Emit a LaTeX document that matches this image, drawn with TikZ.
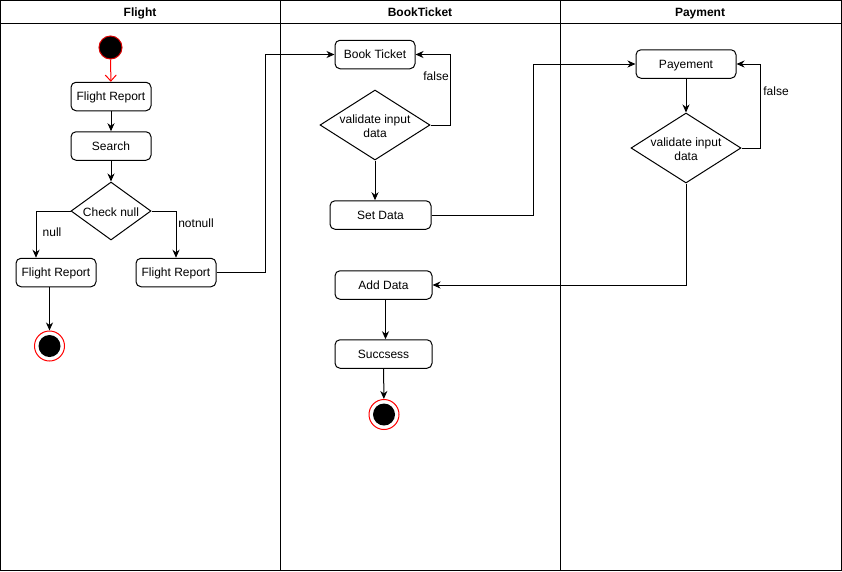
\documentclass[tikz,border=0pt]{standalone}
\usepackage{fontspec}
\setmainfont{Liberation Sans}
\usetikzlibrary{arrows.meta,shapes.geometric}
\begin{document}
\begin{tikzpicture}[x=1pt,y=-1pt,
  font=\fontsize{12}{14}\selectfont,
  line width=1pt,
  txt/.style={text height=11pt, text depth=2.4pt},
  act/.style={draw, rounded corners=5pt, minimum width=#1, minimum height=28.5pt, inner sep=0pt, fill=white, txt},
  act/.default=80pt,
  dia/.style={draw, diamond, inner sep=0pt, minimum width=#1, fill=white},
  dia/.default=110pt,
  dtext/.style={align=center, yshift=-1.5pt},
  flow/.style={-{Stealth[length=8pt,width=7pt,inset=2.5pt]}},
  initstate/.style={circle, draw=red!85!black, fill=black, minimum size=23pt, inner sep=0pt},
  finalstate/.style={circle, draw=red, fill=white, minimum size=30pt, inner sep=0pt,
    path picture={\fill[black] (path picture bounding box.center) circle (11pt);}},
  lbl/.style={inner sep=1pt, txt},
  lanehead/.style={font=\bfseries\fontsize{12}{14}\selectfont, txt}
]
\useasboundingbox (0,0) rectangle (842,571);

% swimlane frame
\draw (0.5,0.5) rectangle (841.5,570.5);
\draw (0.5,23) -- (841.5,23);
\draw (280,0.5) -- (280,570.5);
\draw (560,0.5) -- (560,570.5);
\node[lanehead] (hflight) at (140,12) {Flight};
\node[lanehead] (hbook) at (420,12) {BookTicket};
\node[lanehead] (hpay) at (700,12) {Payment};

% Flight lane
\node[initstate] (start) at (110.5,47.5) {};
\node[act] (fr1) at (111,96.5) {Flight Report};
\node[act] (search) at (111,146) {Search};
\node[dia=80pt, minimum height=58pt, label={[dtext]center:Check null}] (chk) at (111,211) {};
\node[act] (fr2) at (56,272.5) {Flight Report};
\node[act] (fr3) at (176,272.5) {Flight Report};
\node[finalstate] (end1) at (49.5,346) {};

% BookTicket lane
\node[act] (bt) at (375,54.5) {Book Ticket};
\node[dia, minimum height=70pt,
      label={[dtext]center:validate input\\data}] (val1) at (375,125) {};
\node[act=101pt] (sd) at (380.5,215) {Set Data};
\node[act=97pt] (add) at (383.5,285) {Add Data};
\node[act=97pt] (succ) at (383.5,354) {Succsess};
\node[finalstate] (end2) at (384,414.5) {};

% Payment lane
\node[act=100pt] (pay) at (686,64) {Payement};
\node[dia, minimum height=70pt,
      label={[dtext]center:validate input\\data}] (val2) at (686,148) {};

% connectors
\draw[red, -{Straight Barb[length=6pt,width=11pt]}] (start) -- (fr1);
\draw[flow] (fr1) -- (search);
\draw[flow] (search) -- (chk);
\draw[flow] (chk.west) -| ([xshift=-20pt]fr2.north);
\draw[flow] (chk.east) -| (fr3.north);
\draw[flow] (fr2.south -| end1) -- (end1);
\draw[flow] (fr3.east) -- ++(49,0) |- (bt.west);
\draw[flow] (val1.east) -- ++(20,0) |- (bt.east);
\draw[flow] (val1.south) -- (val1.south |- sd.north);
\draw[flow] (sd.east) -- ++(102,0) |- (pay.west);
\draw[flow] (pay) -- (val2);
\draw[flow] (val2.east) -- ++(19,0) |- (pay.east);
\draw[flow] (val2.south) |- (add.east);
\draw[flow] ([xshift=2pt]add.south) -- ([xshift=2pt]succ.north);
\draw[flow] (succ) -- (end2);

% guard labels
\node[lbl] (lnull) at (52,232) {null};
\node[lbl] (lnotnull) at (196,223) {notnull};
\node[lbl] (lfalse1) at (436,76.5) {false};
\node[lbl] (lfalse2) at (776,91) {false};
\end{tikzpicture}
\end{document}
